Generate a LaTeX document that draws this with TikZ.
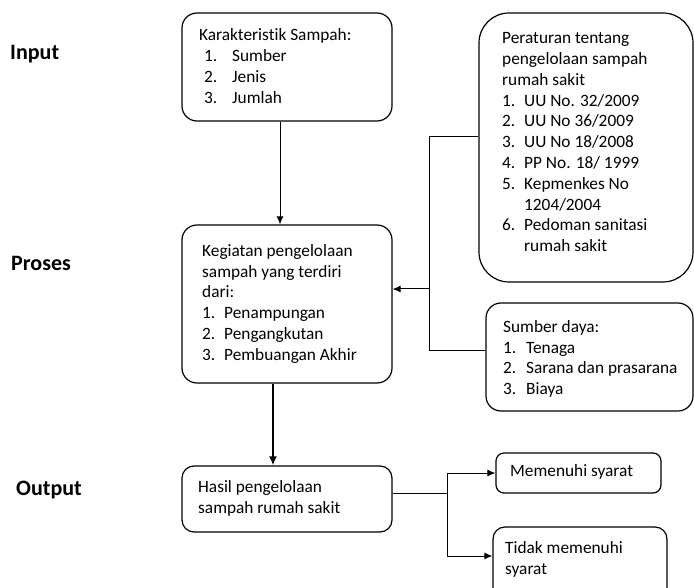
\documentclass[tikz,border=0pt]{standalone}
\usepackage{fontspec}
\setmainfont[Ligatures=NoCommon]{Carlito}
\usetikzlibrary{arrows.meta}
\newcommand{\nm}[2][22pt]{\makebox[#1][l]{#2}}
\begin{document}
\begin{tikzpicture}[x=1pt,y=-1pt,
  box/.style={draw, line width=1.2pt, rounded corners=15pt, inner sep=0pt},
  txt/.style={anchor=north west, inner sep=0pt, align=left, font=\fontsize{17.3}{20.8}\selectfont},
  lab/.style={anchor=west, inner sep=0pt, font=\fontsize{22}{26}\selectfont\bfseries},
  conn/.style={line width=1pt},
  arr/.style={line width=1pt, -{Latex[length=8pt,width=7pt]}},
  thickarr/.style={line width=2.2pt, -{Latex[length=9pt,width=8pt]}}]
\clip (0,0) rectangle (694,588);
\useasboundingbox (0,0) rectangle (694,588);

% left labels
\node[lab] (lin) at (10,54) {Input};
\node[lab] (lpr) at (11,263) {Proses};
\node[lab] (lout) at (16,490) {Output};

% boxes
\node[box, minimum width=210pt, minimum height=108pt] (kar) at (287,67) {};
\node[box, rounded corners=30pt, minimum width=214pt, minimum height=269pt] (per) at (586,147.5) {};
\node[box, minimum width=210pt, minimum height=158pt] (keg) at (287,304) {};
\node[box, minimum width=207pt, minimum height=108pt] (sd) at (589.5,357) {};
\node[box, rounded corners=12pt, minimum width=210pt, minimum height=66pt] (has) at (287,499) {};
\node[box, rounded corners=8pt, minimum width=165pt, minimum height=40pt] (mem) at (578.5,473) {};
\node[box, rounded corners=12pt, minimum width=174pt, minimum height=73pt] (tid) at (580,563.5) {};

% texts
\node[txt] (tkar) at (199,28.5) {Karakteristik Sampah:\\
\hspace*{5pt}\nm[28pt]{1.}Sumber\\
\hspace*{5pt}\nm[28pt]{2.}Jenis\\
\hspace*{5pt}\nm[28pt]{3.}Jumlah};

\node[txt] (tper) at (502,32.5) {Peraturan tentang\\
pengelolaan sampah\\
rumah sakit\\
\nm{1.}UU No. 32/2009\\
\nm{2.}UU No 36/2009\\
\nm{3.}UU No 18/2008\\
\nm{4.}PP No. 18/ 1999\\
\nm{5.}Kepmenkes No\\
\nm{}1204/2004\\
\nm{6.}Pedoman sanitasi\\
\nm{}rumah sakit};

\node[txt] (tkeg) at (202,244) {Kegiatan pengelolaan\\
sampah yang terdiri\\
dari:\\
\nm{1.}Penampungan\\
\nm{2.}Pengangkutan\\
\nm{3.}Pembuangan Akhir};

\node[txt] (tsd) at (503,320) {Sumber daya:\\
\nm[23pt]{1.}Tenaga\\
\nm[23pt]{2.}Sarana dan prasarana\\
\nm[23pt]{3.}Biaya};

\node[txt] (thas) at (198,480) {Hasil pengelolaan\\
sampah rumah sakit};
\node[txt] (tmem) at (510,464.5) {Memenuhi syarat};
\node[txt] (ttid) at (505,541.5) {Tidak memenuhi\\
syarat};

% connectors
\draw[arr] ([xshift=-7pt]kar.south) -- ([xshift=-7pt]kar.south |- keg.north);
\draw[thickarr] ([xshift=-14pt]keg.south) -- ([xshift=-14pt]keg.south |- has.north);

\coordinate (j1) at (429,137);
\coordinate (j2) at (429,350);
\coordinate (j3) at (429,289);
\draw[conn] (per.west |- j1) -- (j1) -- (j2) -- (sd.west |- j2);
\draw[arr] (j3) -- (keg.east |- j3);

\coordinate (h1) at (447,493);
\coordinate (h2) at (447,556);
\draw[conn] (has.east |- h1) -- (h1);
\draw[arr] (h1) |- (mem.west);
\draw[arr] (h1) -- (h2) -- (tid.west |- h2);
\end{tikzpicture}
\end{document}
